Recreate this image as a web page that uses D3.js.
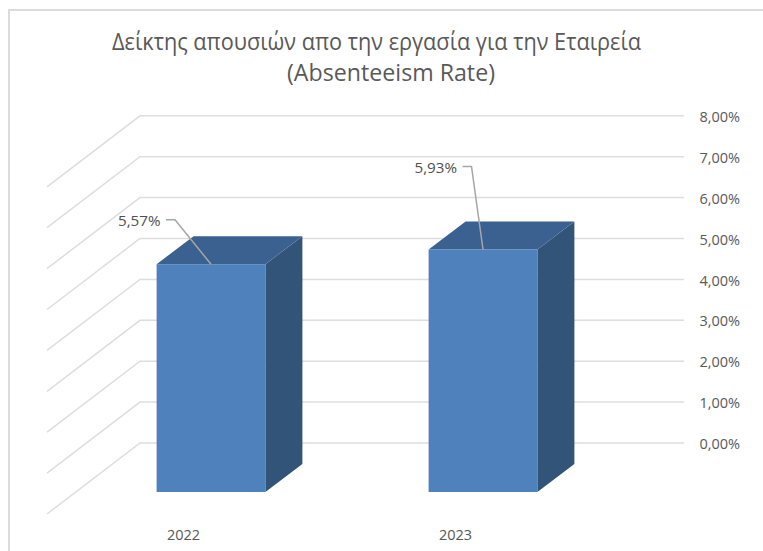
<!DOCTYPE html>
<html>
<head>
<meta charset="utf-8">
<title>Absenteeism Rate</title>
<script src="https://d3js.org/d3.v7.min.js"></script>
<style>
  html, body { margin: 0; padding: 0; background: #fff; }
  svg { display: block; font-family: "Open Sans", "Noto Sans", sans-serif; }
</style>
</head>
<body>
<script>
var years = ["2022", "2023"];
var rates = [5.57, 5.93];
var ticks = [0, 1, 2, 3, 4, 5, 6, 7, 8];
var titleLines = ["Δείκτης απουσιών απο την εργασία για την Εταιρεία", "(Absenteeism Rate)"];

var width = 763, height = 551;
// depth of the fake 3d box, front plane to back wall
var depthX = 37, depthY = -28;
// the back wall sits a bit higher than the back of the bars
var wallLift = -21;
var wallLeft = 140, wallRight = 684, sideX = -93, sideY = 71;

var svg = d3.select("body").append("svg")
    .attr("width", width)
    .attr("height", height);

// chart frame
svg.append("path")
    .attr("d", "M9,551V10H763")
    .attr("fill", "none")
    .attr("stroke", "#dcdcdc")
    .attr("stroke-width", 2);

var y = d3.scaleLinear().domain([0, 8]).range([492, 164.8]);
var x = d3.scaleBand().domain(years).range([75, 619]).paddingInner(0.6).paddingOuter(0.3);

var wallY = function(v) { return y(v) + depthY + wallLift; };

// gridlines: down the side wall and along the back wall
svg.append("g").selectAll("path")
    .data(ticks)
    .enter()
  .append("path")
    .attr("d", function(d) {
        var yy = wallY(d);
        return "M" + (wallLeft + sideX) + "," + (yy + sideY) + "L" + wallLeft + "," + yy + "H" + wallRight;
    })
    .attr("fill", "none")
    .attr("stroke", "#dedede")
    .attr("stroke-width", 1.5);

var axis = d3.axisRight(d3.scaleLinear().domain([0, 8]).range([wallY(0), wallY(8)]))
    .tickValues(ticks)
    .tickSize(0)
    .tickPadding(0)
    .tickFormat(function(d) { return d3.format(".2f")(d).replace(".", ",") + "%"; });

svg.append("g")
    .attr("transform", "translate(699.5,1)")
    .call(axis)
    .call(function(g) { g.select(".domain").remove(); })
    .selectAll("text")
    .attr("font-family", '"Open Sans", "Noto Sans", sans-serif')
    .attr("font-size", 14.5)
    .attr("fill", "#595959");

var data = d3.zip(years, rates);

var bars = svg.append("g").selectAll("g")
    .data(data)
    .enter()
  .append("g");

// right side
bars.append("path")
    .attr("d", function(d) {
        var r = x(d[0]) + x.bandwidth();
        return "M" + r + "," + y(0) + "V" + y(d[1]) + "l" + depthX + "," + depthY + "V" + (y(0) + depthY) + "Z";
    })
    .attr("fill", "#325479");

// top
bars.append("path")
    .attr("d", function(d) {
        var l = x(d[0]), r = l + x.bandwidth();
        return "M" + l + "," + y(d[1]) + "l" + depthX + "," + depthY + "H" + (r + depthX) + "l" + (-depthX) + "," + (-depthY) + "Z";
    })
    .attr("fill", "#3b6190");

// front
bars.append("rect")
    .attr("x", function(d) { return x(d[0]); })
    .attr("y", function(d) { return y(d[1]); })
    .attr("width", x.bandwidth())
    .attr("height", function(d) { return y(0) - y(d[1]); })
    .attr("fill", "#4f81bd");

// leader lines and labels sit at a hand placed offset from the bar
var labelOffset = [[-36, -44.4], [-11.5, -83]];

bars.append("path")
    .attr("d", function(d, i) {
        var cx = x(d[0]) + x.bandwidth() / 2, top = y(d[1]);
        var ex = cx + labelOffset[i][0], ey = top + labelOffset[i][1];
        return "M" + (ex - 9) + "," + ey + "H" + ex + "L" + cx + "," + top;
    })
    .attr("fill", "none")
    .attr("stroke", "#a6a6a6")
    .attr("stroke-width", 1.5);

bars.append("text")
    .attr("x", function(d, i) { return x(d[0]) + x.bandwidth() / 2 + labelOffset[i][0] - 14.5; })
    .attr("y", function(d, i) { return y(d[1]) + labelOffset[i][1] + 2; })
    .attr("text-anchor", "end")
    .attr("dominant-baseline", "middle")
    .attr("font-size", 15.2)
    .attr("fill", "#505050")
    .text(function(d) { return d[1].toFixed(2).replace(".", ",") + "%"; });

// category labels
svg.append("g").selectAll("text")
    .data(years)
    .enter()
  .append("text")
    .attr("x", function(d) { return x(d) + x.bandwidth() / 2 - 27.5; })
    .attr("y", 540)
    .attr("text-anchor", "middle")
    .attr("font-size", 14.5)
    .attr("fill", "#595959")
    .text(function(d) { return d; });

// the two title lines are not centred on the same x in the original
var titleX = [112, 287], titleWidth = [529, 208];

svg.append("g").selectAll("text")
    .data(titleLines)
    .enter()
  .append("text")
    .attr("x", function(d, i) { return titleX[i]; })
    .attr("y", function(d, i) { return 50 + i * 31; })
    .attr("textLength", function(d, i) { return titleWidth[i]; })
    .attr("lengthAdjust", "spacingAndGlyphs")
    .attr("font-size", 23)
    .attr("fill", "#595959")
    .text(function(d) { return d; });
</script>
</body>
</html>
